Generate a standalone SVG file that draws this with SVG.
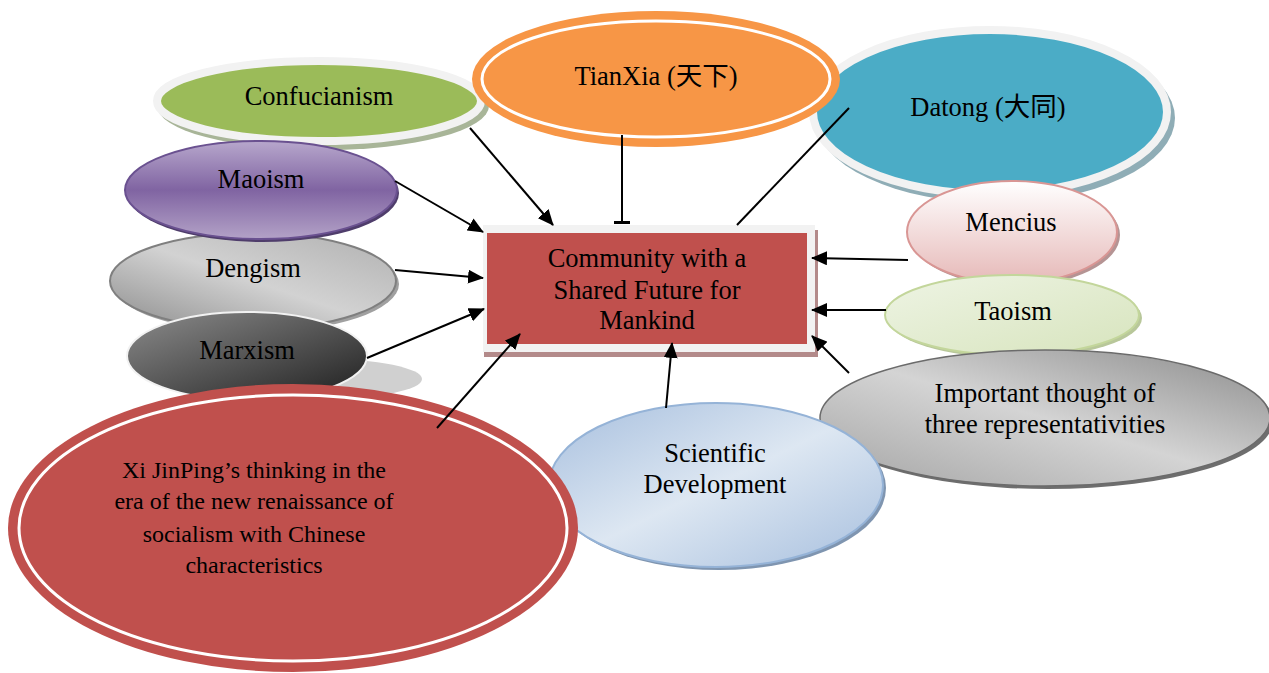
<svg xmlns="http://www.w3.org/2000/svg" width="1269" height="673" viewBox="0 0 1269 673">
<defs>
<style>
text{font-family:"Liberation Serif","Times New Roman","Noto Sans CJK SC",serif;font-size:26.5px;fill:#000;text-anchor:middle}
.xi text{font-size:24px}
.conn line{stroke:#000;stroke-width:2;fill:none}
</style>
<marker id="arr" markerUnits="userSpaceOnUse" markerWidth="16" markerHeight="14" viewBox="0 0 16 14" refX="15" refY="7" orient="auto">
<path d="M0,0 L16,7 L0,14 z" fill="#000"/>
</marker>
<marker id="tee" markerUnits="userSpaceOnUse" markerWidth="4" markerHeight="16" viewBox="0 0 4 16" refX="2" refY="8" orient="auto">
<rect x="0" y="0" width="3" height="16" fill="#000"/>
</marker>
<linearGradient id="gMao" x1="0" y1="0" x2="0" y2="1">
<stop offset="0" stop-color="#b7a7cc"/><stop offset="0.5" stop-color="#8064a2"/><stop offset="1" stop-color="#b3a2c7"/>
</linearGradient>
<linearGradient id="gDeng" x1="0" y1="1" x2="1" y2="0">
<stop offset="0" stop-color="#8c8c8c"/><stop offset="0.5" stop-color="#d2d2d2"/><stop offset="1" stop-color="#b0b0b0"/>
</linearGradient>
<linearGradient id="gMarx" x1="0" y1="0" x2="1" y2="1">
<stop offset="0" stop-color="#8c8c8c"/><stop offset="1" stop-color="#1e1e1e"/>
</linearGradient>
<linearGradient id="gMen" x1="0" y1="0" x2="0" y2="1">
<stop offset="0" stop-color="#ffffff"/><stop offset="1" stop-color="#e6b9b8"/>
</linearGradient>
<linearGradient id="gTao" x1="0" y1="0" x2="1" y2="1">
<stop offset="0" stop-color="#eef4e4"/><stop offset="1" stop-color="#d7e4bd"/>
</linearGradient>
<linearGradient id="gImp" x1="0" y1="1" x2="1" y2="0">
<stop offset="0" stop-color="#a4a4a4"/><stop offset="0.5" stop-color="#d4d4d4"/><stop offset="1" stop-color="#8a8a8a"/>
</linearGradient>
<linearGradient id="gSci" x1="0" y1="0" x2="1" y2="1">
<stop offset="0" stop-color="#a7bfde"/><stop offset="0.5" stop-color="#dde7f2"/><stop offset="1" stop-color="#a7bfde"/>
</linearGradient>
</defs>
<rect width="1269" height="673" fill="#fff"/>

<g id="datong">
<ellipse cx="995" cy="118" rx="180" ry="85" fill="#8fadb6"/>
<ellipse cx="990" cy="112" rx="177" ry="82" fill="#4bacc6" stroke="#f2f2f2" stroke-width="8"/>
<text x="988" y="116">Datong (大同)</text>
</g>

<g id="confucianism">
<ellipse cx="323" cy="106" rx="166" ry="44" fill="#a8b598"/>
<ellipse cx="319" cy="101" rx="162" ry="40" fill="#9bbb59" stroke="#f2f2f2" stroke-width="8"/>
<text x="319" y="105">Confucianism</text>
</g>

<g id="tianxia">
<ellipse cx="656" cy="79" rx="184" ry="68" fill="#f79646"/>
<ellipse cx="656" cy="79" rx="174" ry="58" fill="none" stroke="#fff" stroke-width="3"/>
<text x="656" y="85">TianXia (天下)</text>
</g>

<g id="mencius">
<ellipse cx="1015" cy="235" rx="105" ry="51" fill="#b59494"/>
<ellipse cx="1012" cy="232" rx="105" ry="51" fill="url(#gMen)" stroke="#d99694" stroke-width="2"/>
<text x="1011" y="231">Mencius</text>
</g>

<g id="taoism">
<ellipse cx="1015" cy="318" rx="127" ry="40" fill="#b8c79a"/>
<ellipse cx="1012" cy="315" rx="127" ry="40" fill="url(#gTao)" stroke="#c3d69b" stroke-width="2"/>
<text x="1013" y="320">Taoism</text>
</g>

<g id="important">
<ellipse cx="1048" cy="421" rx="225" ry="68" fill="#6e6e6e"/>
<ellipse cx="1045" cy="418" rx="225" ry="68" fill="url(#gImp)" stroke="#6b6b6b" stroke-width="1.5"/>
<text x="1045" y="402">Important thought of</text>
<text x="1045" y="433">three representativities</text>
</g>

<g id="dengism">
<ellipse cx="256" cy="284" rx="143" ry="48" fill="#a0a0a0"/>
<ellipse cx="253" cy="281" rx="143" ry="48" fill="url(#gDeng)" stroke="#7f7f7f" stroke-width="2"/>
<text x="253" y="277">Dengism</text>
</g>

<g id="maoism">
<ellipse cx="263" cy="193" rx="136" ry="49" fill="#4f3d6b"/>
<ellipse cx="261" cy="190" rx="136" ry="49" fill="url(#gMao)" stroke="#6a5190" stroke-width="2"/>
<text x="261" y="188">Maoism</text>
</g>

<g id="marxism">
<ellipse cx="322" cy="379" rx="100" ry="20" fill="#d0d0d0"/>
<ellipse cx="247" cy="356" rx="120" ry="44" fill="url(#gMarx)" stroke="#f2f2f2" stroke-width="2"/>
<text x="247" y="359">Marxism</text>
</g>

<g id="scientific">
<ellipse cx="719" cy="488" rx="167" ry="82" fill="#7f95b0"/>
<ellipse cx="716" cy="485" rx="167" ry="82" fill="url(#gSci)" stroke="#95b3d7" stroke-width="2"/>
<text x="715" y="462">Scientific</text>
<text x="715" y="493">Development</text>
</g>

<g id="xi" class="xi">
<ellipse cx="293" cy="528" rx="285" ry="144" fill="#c0504d"/>
<ellipse cx="293" cy="528" rx="274" ry="133" fill="none" stroke="#fff" stroke-width="3"/>
<text x="254" y="478">Xi JinPing’s thinking in the</text>
<text x="254" y="509">era of the new renaissance of</text>
<text x="254" y="542">socialism with Chinese</text>
<text x="254" y="573">characteristics</text>
</g>

<g id="community">
<rect x="484" y="230" width="334" height="127" fill="#b38a8a"/>
<rect x="483" y="225" width="332" height="127" fill="#f2f2f2"/>
<rect x="487" y="233" width="320" height="111" fill="#c0504d"/>
<text x="647" y="267">Community with a</text>
<text x="647" y="299">Shared Future for</text>
<text x="647" y="329">Mankind</text>
</g>

<g class="conn" id="connectors">
<line x1="470" y1="128" x2="553" y2="225" marker-end="url(#arr)"/>
<line x1="622" y1="135" x2="622" y2="223" marker-end="url(#tee)"/>
<line x1="849" y1="108" x2="737" y2="225"/>
<line x1="395" y1="181" x2="483" y2="232" marker-end="url(#arr)"/>
<line x1="395" y1="270" x2="483" y2="278" marker-end="url(#arr)"/>
<line x1="367" y1="358" x2="484" y2="309" marker-end="url(#arr)"/>
<line x1="437" y1="428" x2="520" y2="334" marker-end="url(#arr)"/>
<line x1="666" y1="408" x2="672" y2="343" marker-end="url(#arr)"/>
<line x1="908" y1="260" x2="812" y2="258" marker-end="url(#arr)"/>
<line x1="886" y1="310" x2="812" y2="310" marker-end="url(#arr)"/>
<line x1="849" y1="373" x2="812" y2="336" marker-end="url(#arr)"/>
</g>
</svg>
